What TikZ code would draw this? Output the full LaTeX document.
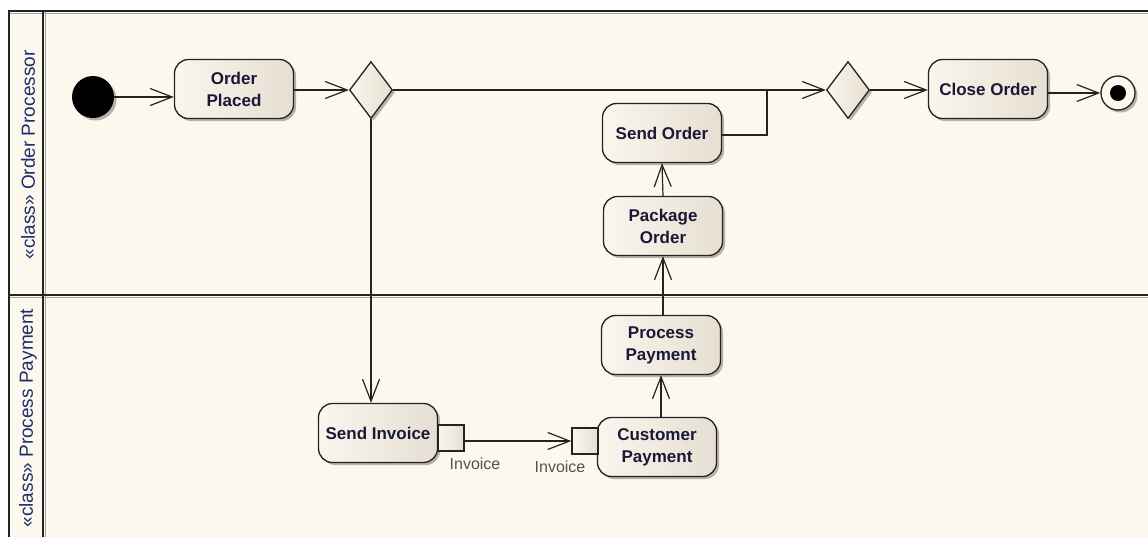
\documentclass[tikz,border=0pt]{standalone}
\usepackage{fontspec}
\setmainfont{Liberation Sans}
\usetikzlibrary{positioning, shapes.geometric, shadows, arrows.meta}

\definecolor{laneBg}{RGB}{252,248,238}
\definecolor{actLeft}{RGB}{250,246,238}
\definecolor{actRight}{RGB}{230,222,209}
\definecolor{edgeCol}{RGB}{35,35,35}
\definecolor{nodeText}{RGB}{25,25,55}
\definecolor{laneText}{RGB}{30,45,110}
\definecolor{pinText}{RGB}{85,85,70}

\tikzset{
  boxshadow/.style={drop shadow={shadow xshift=2.5pt, shadow yshift=-2.5pt, fill=black, opacity=0.28}},
  action/.style={rectangle, rounded corners=14pt, draw=edgeCol, line width=1.3pt,
    left color=actLeft, right color=actRight, minimum width=119pt, minimum height=59pt,
    inner sep=3pt, align=center, text=nodeText,
    font=\fontsize{17}{22}\selectfont\bfseries, boxshadow},
  decision/.style={diamond, draw=edgeCol, line width=1.3pt, left color=actLeft, right color=actRight,
    minimum width=43pt, minimum height=57pt, inner sep=0pt, boxshadow},
  pinbox/.style={rectangle, draw=edgeCol, line width=1.3pt, left color=actLeft, right color=actRight,
    minimum size=26pt, inner sep=0pt},
  pinlabel/.style={text=pinText, font=\fontsize{16}{18}\selectfont, inner sep=0pt},
  initial/.style={circle, fill=black, minimum size=42pt, inner sep=0pt, boxshadow},
  final/.style={circle, draw=edgeCol, line width=1.3pt, fill=laneBg, minimum size=34pt, inner sep=0pt, boxshadow},
  lanelabel/.style={rotate=90, text=laneText, font=\fontsize{19}{21}\selectfont, inner sep=0pt},
  lanerule/.style={draw=edgeCol, line width=1.5pt},
  laneshade/.style={draw=black!35, line width=1.2pt},
  flow/.style={draw=edgeCol, line width=1.2pt, -{Straight Barb[length=22pt, width=17pt, line width=1.2pt]}},
  plainflow/.style={draw=edgeCol, line width=1.2pt}
}

\begin{document}
\begin{tikzpicture}[x=1pt,y=-1pt]
\def\xLeft{9}
\def\xLane{43}
\def\xRight{1170}
\def\yTop{11}
\def\yMid{295}
\def\yBot{545}

\useasboundingbox (0,0) rectangle (1148,536);
\fill[white] (0,0) rectangle (1148,536);
\fill[laneBg] (\xLeft,\yTop) rectangle (\xRight,\yBot);

\draw[laneshade] (\xLeft,\yTop+2.2) -- (\xRight,\yTop+2.2);
\draw[laneshade] (\xLeft,\yMid+2.2) -- (\xRight,\yMid+2.2);
\draw[laneshade] (\xLane+2.2,\yTop) -- (\xLane+2.2,\yBot);
\draw[lanerule] (\xLeft,\yBot) -- (\xLeft,\yTop) -- (\xRight,\yTop);
\draw[lanerule] (\xLeft,\yMid) -- (\xRight,\yMid);
\draw[lanerule] (\xLane,\yTop) -- (\xLane,\yBot);

\node[lanelabel] (laneOrder) at (28,155) {«class» Order Processor};
\node[lanelabel] (lanePay) at (28,418) {«class» Process Payment};

\node[initial] (start) at (93,97) {};
\node[action] (placed) at (234,89) {Order\\Placed};
\node[decision] (fork) at (371,90) {};
\node[decision] (join) at (848,90) {};
\node[action] (close) at (988,89) {Close Order};
\node[final] (fin) at (1118,93) {};
\fill[black] (fin.center) circle (8);
\node[action] (sendord) at (662,133) {Send Order};
\node[action] (pack) at (663,226) {Package\\Order};
\node[action] (procpay) at (661,345) {Process\\Payment};
\node[action] (custpay) at (657,447) {Customer\\Payment};
\node[action] (sendinv) at (378,433) {Send Invoice};
\node[pinbox] (pinOut) at (451,438) {};
\node[pinbox] (pinIn) at (585,441) {};
\node[pinlabel] (labOut) at (475,464) {Invoice};
\node[pinlabel] (labIn) at (560,467) {Invoice};
\coordinate (merge) at (767,90);

\draw[flow] (start) -- (start -| placed.west);
\draw[flow] (placed.east |- fork) -- (fork.west);
\draw[flow] (fork.east) -- (join.west);
\draw[flow] (join.east) -- (join -| close.west);
\draw[flow] (close.east |- fin) -- (fin.west);
\draw[plainflow] ([yshift=-2pt]sendord.east) -| (merge);
\draw[flow] (fork.south) -- (fork.south |- sendinv.north);
\draw[flow] (pinOut.east |- pinIn) -- (pinIn.west);
\draw[flow] (custpay.north -| procpay.south) -- (procpay.south);
\draw[flow] (procpay.north -| pack.south) -- (pack.south);
\draw[flow] (pack.north) -- (sendord.south);
\end{tikzpicture}
\end{document}
